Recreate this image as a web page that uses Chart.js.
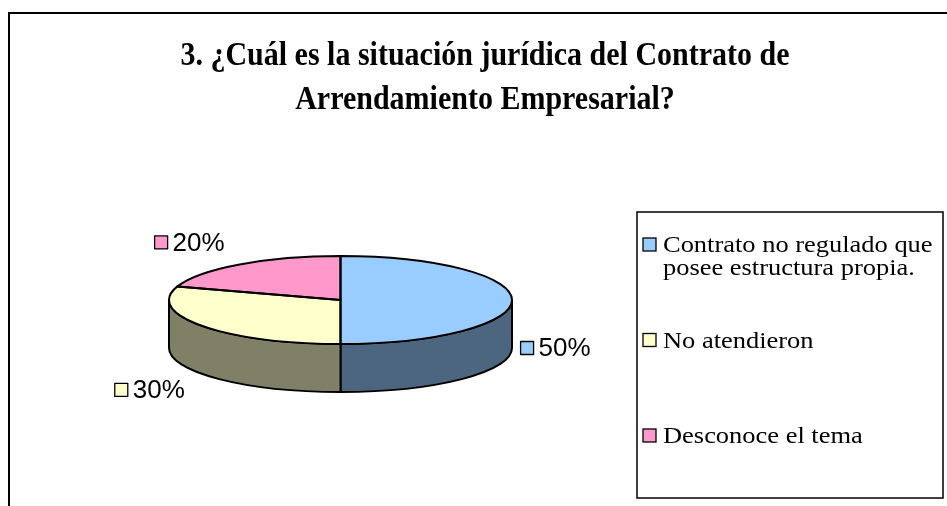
<!DOCTYPE html>
<html><head><meta charset="utf-8">
<script src="https://cdn.jsdelivr.net/npm/chart.js@4/dist/chart.umd.min.js"></script>
<style>html,body{margin:0;padding:0;background:#fff}canvas{display:block}</style>
</head><body>
<canvas id="c" width="947" height="506"></canvas>
<script>
const titleLines = ['3. ¿Cuál es la situación jurídica del Contrato de', 'Arrendamiento Empresarial?'];
const categories = ['Contrato no regulado que posee estructura propia.', 'No atendieron', 'Desconoce el tema'];
const values = [50, 30, 20];
const colors = ['#99CCFF', '#FFFFCC', '#FF99CC'];

const TILT = 44 / 171.5;
const DEPTH = 48;
const SERIF = '"Liberation Serif", "Times New Roman", serif';
const SANS = '"Liberation Sans", Arial, sans-serif';

function darker(hex) {
  const n = parseInt(hex.slice(1), 16);
  const r = (n >> 16) & 255, g = (n >> 8) & 255, b = n & 255;
  return `rgb(${Math.round(r * 0.5)},${Math.round(g * 0.5)},${Math.round(b * 0.5)})`;
}

const framePlugin = {
  id: 'frame',
  beforeDraw(chart) {
    const ctx = chart.ctx;
    ctx.save();
    ctx.fillStyle = '#fff';
    ctx.fillRect(0, 0, chart.width, chart.height);
    ctx.strokeStyle = '#000';
    ctx.lineWidth = 2;
    ctx.strokeRect(9, 13, chart.width + 20, chart.height + 20);
    // title
    ctx.fillStyle = '#000';
    ctx.font = 'bold 30px ' + SERIF;
    ctx.textAlign = 'center';
    ctx.textBaseline = 'alphabetic';
    titleLines.forEach((t, i) => {
      ctx.save();
      ctx.translate(485, 65 + i * 44);
      ctx.scale(1, 1.1);
      ctx.fillText(t, 0, 0);
      ctx.restore();
    });
    ctx.restore();
  },
  afterDraw(chart) {
    const ctx = chart.ctx;
    const ds = chart.data.datasets[0];
    ctx.save();
    // legend box
    const bx = 637, by = 212, bw = 306, bh = 286;
    ctx.strokeStyle = '#000';
    ctx.lineWidth = 1.5;
    ctx.strokeRect(bx, by, bw, bh);
    const sx = 1.15;
    ctx.font = '23px ' + SERIF;
    ctx.textAlign = 'left';
    ctx.textBaseline = 'middle';
    const textX = 663, maxW = (bx + bw - textX) / sx + 4;
    chart.data.labels.forEach((lab, i) => {
      const words = lab.split(' ');
      const lines = [];
      let cur = '';
      words.forEach(w => {
        const test = cur ? cur + ' ' + w : w;
        if (ctx.measureText(test).width > maxW && cur) { lines.push(cur); cur = w; }
        else cur = test;
      });
      if (cur) lines.push(cur);
      const y0 = 245 + i * 95.5;
      ctx.fillStyle = ds.backgroundColor[i];
      ctx.fillRect(643, y0 - 7, 13, 13);
      ctx.lineWidth = 1.3;
      ctx.strokeRect(643, y0 - 7, 13, 13);
      ctx.fillStyle = '#000';
      lines.forEach((ln, k) => {
        ctx.save();
        ctx.translate(textX, y0 + k * 23 + 1);
        ctx.scale(sx, 1);
        ctx.fillText(ln, 0, 0);
        ctx.restore();
      });
    });
    ctx.restore();
  }
};

const pie3d = {
  id: 'pie3d',
  beforeDatasetsDraw(chart) {
    const ctx = chart.ctx;
    const arcs = chart.getDatasetMeta(0).data;
    const a0 = arcs[0];
    const cx = a0.x, cy = a0.y, rx = a0.outerRadius, ry = rx * TILT;
    const bg = chart.data.datasets[0].backgroundColor;
    ctx.save();
    ctx.lineWidth = 2;
    ctx.strokeStyle = '#000';
    ctx.lineJoin = 'round';
    arcs.forEach((arc, i) => {
      [[0, Math.PI], [2 * Math.PI, 3 * Math.PI], [-2 * Math.PI, -Math.PI]].forEach(([lo, hi]) => {
        const s = Math.max(arc.startAngle, lo), e = Math.min(arc.endAngle, hi);
        if (e <= s) return;
        ctx.beginPath();
        ctx.ellipse(cx, cy, rx, ry, 0, s, e, false);
        ctx.ellipse(cx, cy + DEPTH, rx, ry, 0, e, s, true);
        ctx.closePath();
        ctx.fillStyle = darker(bg[i]);
        ctx.fill();
        ctx.stroke();
      });
    });
    ctx.restore();
    ctx.save();
    ctx.translate(0, cy);
    ctx.scale(1, TILT);
    ctx.translate(0, -cy);
  },
  afterDatasetsDraw(chart) {
    const ctx = chart.ctx;
    ctx.restore();
    const arcs = chart.getDatasetMeta(0).data;
    const a0 = arcs[0];
    const cx = a0.x, cy = a0.y, rx = a0.outerRadius, ry = rx * TILT;
    const ds = chart.data.datasets[0];
    ctx.save();
    ctx.lineWidth = 2;
    ctx.strokeStyle = '#000';
    ctx.lineJoin = 'round';
    arcs.forEach(arc => {
      ctx.beginPath();
      ctx.moveTo(cx, cy);
      ctx.ellipse(cx, cy, rx, ry, 0, arc.startAngle, arc.endAngle, false);
      ctx.closePath();
      ctx.stroke();
    });
    // data labels
    const total = ds.data.reduce((a, b) => a + b, 0);
    ctx.font = '26px ' + SANS;
    ctx.textBaseline = 'middle';
    ctx.textAlign = 'left';
    arcs.forEach((arc, i) => {
      const m = (arc.startAngle + arc.endAngle) / 2;
      const c = Math.cos(m), s = Math.sin(m);
      const x = cx + c * rx * 1.05 + (c < 0 ? -10 : 0);
      const y = cy + s * ry * 1.62 + (s > -0.01 ? DEPTH : 0);
      const txt = Math.round(ds.data[i] / total * 100) + '%';
      const tw = ctx.measureText(txt).width;
      const sq = 13, gap = 5;
      const w = sq + gap + tw;
      const left = c >= 0 ? x : x - w;
      ctx.fillStyle = ds.backgroundColor[i];
      ctx.fillRect(left, y - sq / 2, sq, sq);
      ctx.lineWidth = 1.3;
      ctx.strokeRect(left, y - sq / 2, sq, sq);
      ctx.fillStyle = '#000';
      ctx.fillText(txt, left + sq + gap, y + 1);
    });
    ctx.restore();
  }
};

new Chart(document.getElementById('c'), {
  type: 'pie',
  data: {
    labels: categories,
    datasets: [{
      data: values,
      backgroundColor: colors,
      borderWidth: 0,
      radius: 171.5
    }]
  },
  options: {
    responsive: false,
    animation: false,
    events: [],
    layout: { padding: { left: 0, right: 266, top: 94, bottom: 0 } },
    plugins: { legend: { display: false }, tooltip: { enabled: false }, title: { display: false } }
  },
  plugins: [framePlugin, pie3d]
});
</script>
</body></html>
